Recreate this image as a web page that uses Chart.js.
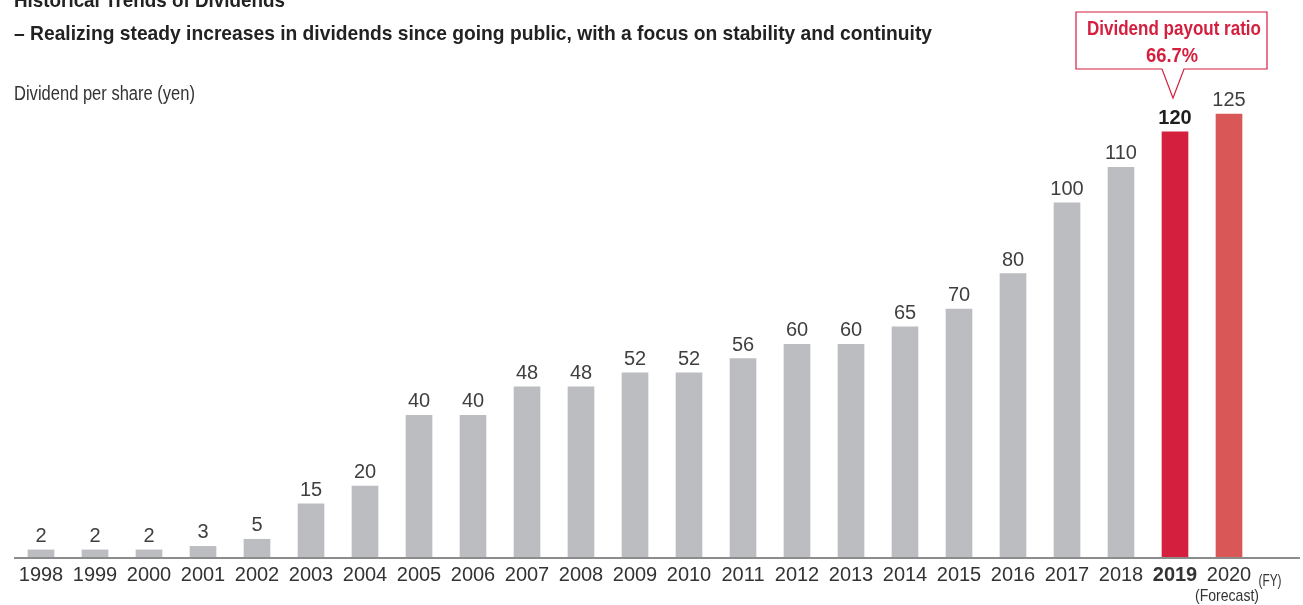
<!DOCTYPE html>
<html lang="en">
<head>
<meta charset="utf-8">
<title>Historical Trends of Dividends</title>
<script src="https://cdn.jsdelivr.net/npm/chart.js@4.4.1/dist/chart.umd.min.js"></script>
<style>
  html, body { margin: 0; padding: 0; background: #fff; }
  #wrap { position: relative; width: 1303px; height: 605px; }
</style>
</head>
<body>
<div id="wrap"><canvas id="divChart" width="1303" height="605"></canvas></div>

<script>
  // data
  var years = ['1998','1999','2000','2001','2002','2003','2004','2005','2006','2007','2008',
               '2009','2010','2011','2012','2013','2014','2015','2016','2017','2018','2019','2020'];
  var dividends = [2, 2, 2, 3, 5, 15, 20, 40, 40, 48, 48, 52, 52, 56, 60, 60, 65, 70, 80, 100, 110, 120, 125];
  var barColors = years.map(function (y) {
    if (y == '2019') return '#d41f3f';
    if (y == '2020') return '#d95757';
    return '#bcbdc1';
  });

  var FONT = '"Liberation Sans", Arial, sans-serif';

  // draws text squeezed horizontally to a given width (the original uses a condensed face)
  function fitText(c, text, x, y, font, width, align) {
    c.save();
    c.font = font;
    var w = c.measureText(text).width;
    var k = Math.min(1, width / w);
    c.textAlign = 'left';
    var left = x;
    if (align == 'center') left = x - width / 2;
    c.translate(left, y);
    c.scale(k, 1);
    c.fillText(text, 0, 0);
    c.restore();
  }

  // text, callout, value labels, extended axis
  var decorations = {
    id: 'decorations',
    beforeDraw: function (chart) {
      var c = chart.ctx;
      c.save();
      c.fillStyle = '#fff';
      c.fillRect(0, 0, chart.width, chart.height);
      c.restore();
    },
    afterDatasetsDraw: function (chart) {
      var c = chart.ctx;
      var meta = chart.getDatasetMeta(0);
      var yBase = chart.scales.y.getPixelForValue(0);
      c.save();

      // axis line
      c.strokeStyle = '#8c8c8c';
      c.lineWidth = 2;
      c.beginPath();
      c.moveTo(14, yBase + 1);
      c.lineTo(1300, yBase + 1);
      c.stroke();

      // headings
      c.fillStyle = '#222';
      c.textBaseline = 'alphabetic';
      fitText(c, 'Historical Trends of Dividends', 14, 7, 'bold 20px ' + FONT, 271);
      fitText(c, '\u2013 Realizing steady increases in dividends since going public, with a focus on stability and continuity',
              14, 40, 'bold 21px ' + FONT, 918);
      c.fillStyle = '#333';
      fitText(c, 'Dividend per share (yen)', 14, 100, '20px ' + FONT, 181);

      // value labels
      c.textAlign = 'center';
      meta.data.forEach(function (bar, i) {
        if (years[i] == '2019') {
          c.font = 'bold 20px ' + FONT;
          c.fillStyle = '#1e1e1e';
        } else {
          c.font = '20px ' + FONT;
          c.fillStyle = '#3f3f3f';
        }
        c.fillText(String(dividends[i]), bar.x, bar.y - 8);
      });

      // extra axis texts
      var last = meta.data[meta.data.length - 1];
      c.fillStyle = '#333';
      fitText(c, '(Forecast)', last.x - 2, 601, '17px ' + FONT, 64, 'center');
      fitText(c, '(FY)', 1270, 586, '17px ' + FONT, 23, 'center');

      // callout for 2019
      var b19 = meta.data[years.indexOf('2019')];
      var tipX = b19.x - 2, tipY = 98;
      c.strokeStyle = '#d41f3f';
      c.lineWidth = 1.2;
      c.fillStyle = '#fff';
      c.beginPath();
      c.moveTo(1076, 12);
      c.lineTo(1267, 12);
      c.lineTo(1267, 69);
      c.lineTo(tipX + 11, 69);
      c.lineTo(tipX, tipY);
      c.lineTo(tipX - 11, 69);
      c.lineTo(1076, 69);
      c.closePath();
      c.fill();
      c.stroke();
      c.fillStyle = '#d41f3f';
      fitText(c, 'Dividend payout ratio', 1174, 35, 'bold 20px ' + FONT, 174, 'center');
      fitText(c, '66.7%', 1172, 62, 'bold 20px ' + FONT, 52, 'center');

      c.restore();
    }
  };

  var divChart = new Chart(document.getElementById('divChart'), {
    type: 'bar',
    data: {
      labels: years,
      datasets: [{
        label: 'Dividend per share (yen)',
        data: dividends,
        backgroundColor: barColors,
        borderWidth: 0,
        barThickness: 26
      }]
    },
    options: {
      responsive: false,
      animation: false,
      devicePixelRatio: 1,
      layout: { padding: { left: 14, right: 47, top: 61, bottom: 0 } },
      plugins: {
        legend: { display: false },
        tooltip: { enabled: false },
        title: { display: false }
      },
      scales: {
        x: {
          grid: { display: false, drawTicks: false },
          border: { display: false },
          ticks: {
            color: '#333',
            padding: 6,
            autoSkip: false,
            maxRotation: 0,
            font: function (ctx) {
              var bold = ctx.index === years.indexOf('2019');
              return { family: FONT, size: 20, weight: bold ? 'bold' : 'normal' };
            }
          },
          afterFit: function (scale) { scale.height = 48; }
        },
        y: {
          display: false,
          min: 0,
          max: 140
        }
      }
    },
    plugins: [decorations]
  });
</script>
</body>
</html>
